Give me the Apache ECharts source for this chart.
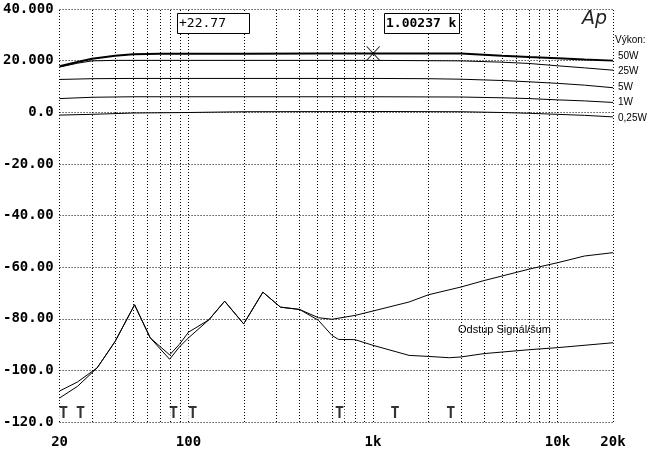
<!DOCTYPE html>
<html>
<head>
<meta charset="utf-8">
<title>Výkon / Odstup Signál/šum</title>
<script src="https://cdn.jsdelivr.net/npm/echarts@6/dist/echarts.min.js"></script>
<style>
	html, body { margin: 0; padding: 0; background: #fff; }
	#main { width: 658px; height: 450px; }
</style>
</head>
<body>
<div id="main"></div>
<script type="text/javascript">
	// frekvencni charakteristiky pro ruzne vykony [Hz, dB]
	var p50W = [[20,17.8],[25,19.5],[30,20.7],[40,21.9],[50,22.5],[70,22.7],[200,22.7],[500,22.8],[1000,22.8],[3000,22.8],[5000,21.9],[7000,21.4],[10000,20.9],[14000,20.4],[20000,20.0]];
	var p25W = [[20,17.5],[25,19.0],[30,19.9],[40,20.1],[100,20.1],[1000,20.1],[3000,19.9],[5000,19.4],[7000,18.9],[10000,18.0],[14000,17.2],[20000,16.3]];
	var p5W  = [[20,12.7],[30,13.0],[50,13.1],[1000,13.1],[2000,13.0],[3000,12.8],[5000,12.3],[7000,11.8],[10000,11.2],[14000,10.5],[20000,9.5]];
	var p1W  = [[20,5.3],[30,5.8],[50,6.0],[1000,6.0],[3000,5.9],[5000,5.6],[7000,5.3],[10000,4.8],[14000,4.4],[20000,3.8]];
	var p025W = [[20,-1.1],[30,-0.8],[50,-0.3],[100,-0.1],[200,0.2],[1000,0.3],[3000,0.2],[5000,-0.1],[7000,-0.4],[10000,-0.8],[14000,-1.2],[20000,-1.8]];

	// odstup signal/sum - dve krivky
	var noiseA = [[20,-108],[25,-104.5],[32,-99],[40,-88.8],[51,-74.6],[62,-87.4],[79,-94],[89,-90],[100,-85.2],[129,-80.4],[157,-73.2],[199,-82],[253,-69.7],[315,-75.5],[400,-76.4],[506,-79.6],[600,-80.2],[800,-78.7],[1000,-77],[1570,-73.5],[2000,-70.7],[3000,-67.7],[4000,-65.2],[7000,-60.8],[10000,-58.3],[14000,-55.7],[20000,-54.4]];
	var noiseB = [[20,-110.7],[25,-106.2],[32,-99],[40,-88.8],[51,-74.6],[62,-87.4],[79,-95.7],[89,-91],[100,-87.4],[129,-80.4],[157,-73.2],[199,-82],[253,-69.7],[315,-75.5],[400,-76.4],[506,-80.6],[600,-86.5],[650,-88],[800,-88.1],[1000,-90.3],[1570,-94.2],[2000,-94.6],[2600,-95.1],[3000,-94.8],[4000,-93.5],[7000,-92],[10000,-91.2],[20000,-89.3]];

	// znacky "T" u spodniho okraje
	var tMarks = [[21,-117],[26,-117],[82.9,-117],[105.3,-117],[658,-117],[1318,-117],[2637,-117]];

	// kurzor
	var cursorPoint = [[1002.37, 22.77]];

	// mrizka a popisky os
	var gridFreqs = [20,30,40,50,60,70,80,90,100,200,300,400,500,600,700,800,900,1000,2000,3000,4000,5000,6000,7000,8000,9000,10000,20000];
	var yTickLabels = ['40.000','20.000','0.0','-20.00','-40.00','-60.00','-80.00','-100.0','-120.0'];
	var powerNames = ['50W','25W','5W','1W','0,25W'];

	var myChart = echarts.init(document.getElementById('main'));

	function fmtFreq(v) {
		v = Math.round(v);
		if (v >= 1000) return (v / 1000) + 'k';
		return '' + v;
	}

	var dotted = { type: [1, 2], color: '#000', width: 1 };
	var labFont = { fontFamily: 'DejaVu Sans Mono', fontWeight: 'bold', fontSize: 14, color: '#000' };

	function powerSeries(name, data, width, offY) {
		return {
			name: name, type: 'line', data: data, showSymbol: false, silent: true,
			lineStyle: { color: '#000', width: width },
			endLabel: { show: true, formatter: name, fontFamily: 'Liberation Sans', fontSize: 10, color: '#000', distance: 5, offset: [0, offY] },
			z: 5
		};
	}

	var option = {
		animation: false,
		backgroundColor: '#fff',
		grid: { left: 56, right: 45, top: 9, bottom: 28 },
		title: [
			{ text: '+22.77', left: 177, top: 13, padding: [3, 24, 3, 2], borderColor: '#000', borderWidth: 1, backgroundColor: '#fff',
			  textStyle: { fontFamily: 'DejaVu Sans Mono', fontWeight: 'normal', fontSize: 13, lineHeight: 15, color: '#000' } },
			{ text: '1.00237 k', left: 384, top: 13, padding: [3, 3, 3, 2], borderColor: '#000', borderWidth: 1, backgroundColor: '#fff',
			  textStyle: { fontFamily: 'DejaVu Sans Mono', fontWeight: 'bold', fontSize: 13, lineHeight: 15, color: '#000' } },
			{ text: 'Ap', left: 582, top: 10, padding: 0,
			  textStyle: { fontFamily: 'DejaVu Sans', fontStyle: 'italic', fontWeight: 'lighter', fontSize: 19, color: '#222' } },
			{ text: 'Výkon:', left: 615, top: 35, padding: 0,
			  textStyle: { fontFamily: 'Liberation Sans', fontWeight: 'normal', fontSize: 10, color: '#000' } },
			{ text: 'Odstup Signál/šum', left: 458, top: 324, padding: 0,
			  textStyle: { fontFamily: 'Liberation Sans', fontWeight: 'normal', fontSize: 11, color: '#000' } }
		],
		xAxis: {
			type: 'log', logBase: 10, min: 20, max: 20000,
			axisLine: { show: false }, axisTick: { show: false }, splitLine: { show: false },
			axisLabel: Object.assign({ margin: 13, showMinLabel: true, showMaxLabel: true, formatter: fmtFreq }, labFont)
		},
		yAxis: {
			type: 'value', min: -120, max: 40, interval: 20,
			axisLine: { show: false }, axisTick: { show: false },
			splitLine: { show: true, lineStyle: dotted },
			axisLabel: Object.assign({ margin: 6, formatter: function (v) { return yTickLabels[Math.round((40 - v) / 20)]; } }, labFont)
		},
		series: [
			{
				name: 'grid', type: 'line', data: [], silent: true, z: 1,
				markLine: {
					silent: true, symbol: ['none', 'none'], label: { show: false },
					lineStyle: dotted,
					data: gridFreqs.map(function (f) { return { xAxis: f }; })
				}
			},
			powerSeries(powerNames[0], p50W, 2, -4),
			powerSeries(powerNames[1], p25W, 1, 1),
			powerSeries(powerNames[2], p5W, 1, 0),
			powerSeries(powerNames[3], p1W, 1, 0),
			powerSeries(powerNames[4], p025W, 1, 1),
			{ name: 'A', type: 'line', data: noiseA, showSymbol: false, silent: true, lineStyle: { color: '#000', width: 1 }, z: 5 },
			{ name: 'B', type: 'line', data: noiseB, showSymbol: false, silent: true, lineStyle: { color: '#000', width: 1 }, z: 5 },
			{
				name: 'kurzor', type: 'scatter', data: cursorPoint, silent: true, z: 6,
				symbol: 'path://M0,0L10,10M10,0L0,10', symbolSize: [13, 14],
				itemStyle: { color: 'none', borderColor: '#000', borderWidth: 1 }
			},
			{
				name: 'T', type: 'scatter', data: tMarks, silent: true, z: 6,
				symbol: 'rect', symbolSize: [10, 13], itemStyle: { color: '#fff' },
				label: {
					show: true, position: 'inside', formatter: 'T',
					fontFamily: 'DejaVu Sans Mono', fontWeight: 'bold', fontSize: 15, color: '#000'
				}
			}
		]
	};

	myChart.setOption(option);
</script>
</body>
</html>
